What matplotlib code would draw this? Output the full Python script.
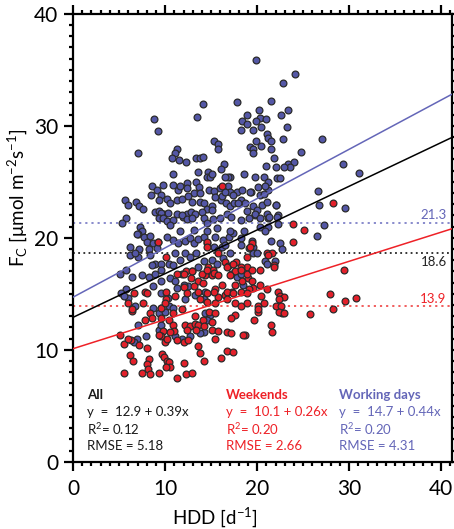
import matplotlib
matplotlib.use("Agg")
import matplotlib.pyplot as plt
from matplotlib.ticker import MultipleLocator

plt.rcParams['font.family'] = ['Lato', 'DejaVu Sans']
plt.rcParams['mathtext.fontset'] = 'custom'
plt.rcParams['mathtext.rm'] = 'Lato'
plt.rcParams['mathtext.it'] = 'Lato'

# (HDD, Fc) pairs
working_days = [
    (8.8,30.6),(9.2,29.5),(13.5,30.8),(14.1,31.9),(17.8,32.1),(18.4,30.4),(18.3,29.6),(19.9,35.9),
    (24.1,34.6),(22.8,33.8),(21.5,32.2),(20.2,31.4),(23.4,31.4),(22.6,31.0),(18.9,31.0),(20.3,30.7),
    (21.0,30.6),(19.9,30.4),(18.9,30.2),(20.4,29.9),(23.3,29.9),(19.5,29.6),(21.1,29.3),
    (19.9,28.6),(19.2,28.1),(19.5,27.9),(19.5,27.6),(20.4,28.2),(21.2,28.9),(21.5,28.6),(22.8,28.8),
    (21.5,27.9),(21.8,27.1),(24.8,27.7),(27.1,28.8),(23.4,26.6),(24.0,26.8),(23.6,26.3),(22.9,26.3),
    (22.0,26.3),(21.0,26.4),(29.3,26.6),(31.1,25.8),(15.3,28.6),(15.8,28.4),(15.8,27.9),(11.3,27.9),
    (11.1,27.6),(10.7,27.1),(7.1,27.6),(11.5,26.9),(12.3,26.8),(13.4,27.1),(13.8,27.1),(14.1,27.2),
    (16.4,26.6),(17.1,25.4),(16.8,25.4),(16.1,26.1),(16.5,25.4),(10.9,25.7),(13.6,25.9),(14.7,25.9),
    (14.5,25.4),(14.9,25.4),(15.1,25.7),(18.6,25.7),(19.8,25.4),(20.7,25.4),(22.2,25.3),(22.5,25.3),
    (8.6,24.6),(9.1,24.3),(11.4,24.3),(11.6,24.6),(12.4,24.9),(13.4,25.0),(13.7,24.5),(12.4,24.4),
    (13.1,24.0),(13.8,24.0),(14.8,24.3),(15.3,24.2),(16.0,24.4),(16.8,24.6),(17.1,24.1),(17.8,24.1),
    (18.4,24.3),(19.3,24.1),(20.1,24.5),(20.3,23.8),(21.2,24.3),(20.8,23.9),(8.5,23.8),(9.5,23.8),
    (9.3,23.4),(10.2,23.5),(10.5,23.1),(11.3,23.4),(11.8,23.5),(12.5,23.7),(12.9,23.2),(13.8,23.2),
    (14.2,23.1),(14.5,22.6),(15.1,22.8),(15.4,23.6),(16.1,23.4),(16.6,23.1),(17.1,22.8),(17.5,23.1),
    (18.2,23.4),(18.7,23.1),(19.6,22.8),(20.0,22.5),(20.5,22.9),(21.1,23.2),(22.0,22.9),
    (5.6,23.4),(6.0,22.9),(6.8,23.2),(7.2,22.8),(7.6,22.6),(5.7,21.8),(9.8,24.7),(10.9,24.7),
    (8.9,22.3),(9.3,22.4),(9.9,22.1),(10.3,22.2),(11.3,22.1),(11.9,21.9),(12.4,22.1),(12.8,22.3),
    (13.3,22.1),(14.0,22.3),(15.1,22.5),(16.2,23.7),(16.5,24.1),(17.4,23.8),(17.9,23.1),
    (21.2,25.0),(20.9,24.6),(19.2,24.1),(22.1,22.9),(21.1,22.1),(21.2,21.8),(22.3,22.0),(19.8,22.0),
    (18.9,22.4),(26.6,24.2),(26.7,22.9),(29.6,22.7),
    (9.5,22.2),(9.3,21.8),(9.8,21.8),(10.2,21.5),(10.9,21.6),(11.8,22.0),(12.4,21.7),(12.9,21.8),
    (14.2,21.8),(14.5,21.3),(15.2,21.7),(16.0,21.8),(16.7,22.1),(17.2,21.9),(18.2,21.6),(19.1,21.8),
    (19.8,22.1),(20.3,21.8),(21.3,21.9),(22.2,21.9),(22.3,21.2),(10.2,20.1),(10.9,19.8),(11.4,19.5),
    (12.2,19.7),(12.7,20.0),(13.1,19.5),(13.6,19.9),(14.2,20.1),(14.5,19.5),(15.4,20.1),(15.3,19.2),
    (16.3,19.8),(16.9,20.1),(17.4,20.4),(19.4,19.7),(19.5,19.2),(10.5,21.1),(11.6,20.6),(13.1,20.7),
    (14.5,20.6),(15.6,20.9),(17.1,20.6),(18.6,20.6),(20.3,21.0),(21.2,21.0),(20.9,20.6),
    (7.3,21.0),(7.5,20.6),(7.0,20.3),(7.7,20.1),(8.4,20.2),(8.0,19.6),(8.7,19.5),(9.2,19.6),
    (6.2,19.2),(7.2,19.0),(8.3,19.0),(9.1,19.1),(7.0,18.3),(26.5,20.2),(27.3,21.1),(22.5,19.5),
    (21.5,19.7),(22.7,19.0),(19.6,18.6),(20.0,18.6),(19.1,19.1),(5.3,21.3),(6.9,20.3),
    (12.2,18.6),(12.7,18.3),(11.6,18.0),(11.1,18.6),(13.4,18.6),(6.2,18.5),(6.7,18.6),(8.4,18.5),
    (15.8,18.9),(16.2,19.2),(16.5,19.4),(18.2,20.0),(18.3,19.4),(17.1,18.6),(16.3,18.2),(15.1,18.0),
    (14.2,17.9),(15.6,17.7),
    (8.9,17.7),(8.6,17.6),(9.5,17.7),(10.4,17.7),(10.9,17.6),(5.1,16.8),(5.7,17.1),(6.4,16.5),
    (7.5,16.7),(8.2,16.5),(8.9,16.8),(9.6,17.1),(9.5,16.1),(10.5,16.4),(11.1,16.1),(11.8,16.8),
    (12.9,17.0),(13.6,17.4),(17.2,16.8),(17.8,16.5),(18.3,16.8),(18.5,15.8),(12.5,15.7),(14.3,15.2),
    (13.3,14.9),(5.7,15.4),(6.0,14.6),(8.7,15.7),(9.6,15.1),(10.3,14.6),(11.3,15.5),(12.2,14.5),
    (14.2,14.5),(12.0,15.8),(20.9,17.9),(21.1,17.7),(21.9,17.9),(5.2,15.1),(5.5,14.8),
    (6.7,13.9),(7.1,12.2),(7.9,11.2),(8.7,13.7),(9.6,13.7),(10.4,13.9),(10.9,13.7),(9.3,13.3),
    (10.0,13.4),(9.3,11.8),(9.6,12.2),(14.3,13.3),(14.9,13.1),(14.5,12.7),(14.2,11.6),(13.8,11.5),
    (11.8,11.0),(12.7,11.2),(6.9,11.0),(6.6,10.7),(11.1,11.2),
]

weekends = [
    (28.3,23.1),(16.2,24.6),(23.9,21.2),(25.1,20.7),(23.9,19.6),(29.4,17.1),(27.9,15.0),(29.5,14.4),
    (30.8,14.6),(25.8,13.2),(28.3,13.6),
    (9.2,19.6),(10.1,18.3),(14.5,19.6),(14.5,19.2),(15.8,18.6),(21.1,18.6),(21.6,18.6),(19.4,19.5),
    (19.2,19.2),(18.9,18.3),(18.9,17.4),(20.3,17.1),(21.8,17.6),(21.2,18.5),
    (12.3,17.0),(12.8,16.4),(7.8,15.2),(6.6,15.1),(6.0,14.2),(10.1,15.2),(10.1,14.5),(12.1,15.6),
    (13.6,16.1),(14.1,16.0),(14.7,17.4),(15.2,17.1),(15.1,16.7),(14.3,16.7),(16.5,17.8),(16.8,17.5),
    (17.7,17.8),(18.2,17.4),(17.6,17.0),(17.1,16.7),(18.4,16.1),(17.6,15.8),(17.3,15.2),(16.2,15.8),
    (15.4,15.4),(15.8,14.7),(16.5,14.9),(18.2,15.2),(19.0,16.4),(19.4,16.1),(20.3,15.8),(19.6,15.5),
    (19.1,15.4),(21.1,15.4),(20.4,14.8),(22.3,15.2),(22.5,14.8),(22.9,14.7),(22.4,14.5),
    (16.7,15.2),(17.4,15.1),(18.9,15.1),(15.3,15.2),(14.5,15.1),(13.6,15.2),(13.1,15.7),(13.8,14.5),
    (14.5,14.3),(15.4,14.2),(16.7,14.5),(17.6,14.2),(18.2,13.9),(18.9,14.2),(20.1,13.9),(20.7,14.2),
    (20.1,13.4),(22.5,13.7),(22.7,13.3),(22.1,13.9),(8.0,15.1),(7.6,14.2),(6.4,13.5),(8.4,13.3),
    (9.5,13.7),(10.0,14.2),(11.1,14.8),(12.4,15.1),(11.3,16.8),(12.0,16.8),(12.9,17.0),(14.0,16.8),
    (14.5,17.1),(15.3,16.9),(15.8,16.7),(16.7,17.4),(17.4,17.7),(18.3,17.1),(18.9,16.8),(19.4,17.1),
    (21.8,17.4),(20.1,13.6),(22.6,13.9),(22.4,13.4),(22.9,13.3),(19.7,12.7),(21.5,12.2),(21.6,11.6),
    (18.7,11.3),
    (6.4,13.6),(8.6,12.8),(7.8,12.7),(9.5,12.8),(10.4,12.7),(10.9,13.3),(11.8,13.6),(13.3,13.0),
    (14.1,12.7),(14.8,13.4),(15.1,12.5),(15.4,13.3),(12.2,12.2),(12.7,12.1),(13.3,12.3),(13.6,12.2),
    (14.2,12.1),(12.4,11.8),(13.4,11.8),(15.1,11.8),(15.7,11.7),(16.7,11.6),(17.2,11.5),(17.6,13.1),
    (17.2,12.8),(10.9,12.2),(11.0,11.7),(10.5,11.6),(9.8,11.7),(9.5,11.2),(10.0,10.7),(10.2,11.0),
    (11.3,10.9),(12.0,10.7),(12.5,10.9),(15.4,11.0),(5.5,10.5),(6.3,10.9),(7.2,10.4),(8.0,10.2),
    (9.3,11.3),(18.5,11.3),(5.1,11.3),(6.0,11.0),
    (6.2,9.5),(6.5,9.0),(8.3,9.2),(8.0,8.7),(8.1,8.3),(9.7,9.6),(9.9,9.4),(10.2,9.0),(10.4,8.9),
    (10.5,8.5),(10.1,8.5),(12.1,8.8),(14.2,9.0),(13.6,10.3),(13.8,9.7),(16.1,9.3),(16.7,9.9),
    (17.4,9.8),(5.5,7.9),(7.5,7.9),(8.4,7.8),(9.3,7.9),(11.3,7.5),(12.3,7.8),(12.9,7.9),
]

# regression fits and means
fit_all = (12.9, 0.39)
fit_weekend = (10.1, 0.26)
fit_work = (14.7, 0.44)
mean_all = 18.6
mean_weekend = 13.9
mean_work = 21.3

BLUE = '#5457a6'
BLUE_LINE = '#6466b8'
RED = '#e3202a'
RED_LINE = '#ee2127'

fig = plt.figure(figsize=(4.54, 5.29), dpi=100)
ax = fig.add_axes([0.161, 0.127, 0.835, 0.847])

xmax = 41.2
ax.set_xlim(0, xmax)
ax.set_ylim(0, 40)

wx = [p[0] for p in working_days]
wy = [p[1] for p in working_days]
rx = [p[0] for p in weekends]
ry = [p[1] for p in weekends]
ax.scatter(wx, wy, s=24, c=BLUE, edgecolors='#2a2a2a', linewidths=0.9, zorder=3)
ax.scatter(rx, ry, s=24, c=RED, edgecolors='#2a2a2a', linewidths=0.9, zorder=3)

xs = [0, xmax]
for (a, b), col in [(fit_work, BLUE_LINE), (fit_all, 'black'), (fit_weekend, RED_LINE)]:
    ax.plot(xs, [a + b * v for v in xs], color=col, lw=1.1, zorder=4)

dot = (0, (1.2, 2.2))
ax.axhline(mean_work, color='#7f81c8', lw=1.3, ls=dot, zorder=2)
ax.axhline(mean_all, color='black', lw=1.1, ls=dot, zorder=2)
ax.axhline(mean_weekend, color='#f05050', lw=1.3, ls=dot, zorder=2)
ax.text(40.6, mean_work + 0.7, f'{mean_work:.1f}', color=BLUE_LINE, ha='right', va='center', fontsize=9.5)
ax.text(40.6, mean_all - 0.8, f'{mean_all:.1f}', color='#222222', ha='right', va='center', fontsize=9.5)
ax.text(40.6, mean_weekend + 0.6, f'{mean_weekend:.1f}', color=RED_LINE, ha='right', va='center', fontsize=9.5)

# fit statistics
groups = [
    (1.5, 'All', fit_all, '0.12', '5.18', '#1a1a1a'),
    (16.6, 'Weekends', fit_weekend, '0.20', '2.66', RED_LINE),
    (28.9, 'Working days', fit_work, '0.20', '4.31', BLUE_LINE),
]
for x0, name, (a, b), r2, rmse, col in groups:
    ax.text(x0, 6.0, name, color=col, fontsize=9.5, fontweight='bold', va='center')
    ax.text(x0, 4.45, f'y  =  {a:.1f} + {b:.2f}x', color=col, fontsize=9.5, va='center')
    ax.text(x0, 2.9, r'R$^2$= ' + r2, color=col, fontsize=9.5, va='center')
    ax.text(x0, 1.4, f'RMSE = {rmse}', color=col, fontsize=9.5, va='center')

ax.xaxis.set_major_locator(MultipleLocator(10))
ax.xaxis.set_minor_locator(MultipleLocator(1))
ax.yaxis.set_major_locator(MultipleLocator(10))
ax.yaxis.set_minor_locator(MultipleLocator(1))
ax.tick_params(which='both', direction='out', top=True, right=True, width=1.6, colors='black')
ax.tick_params(which='major', length=6.5, labelsize=15)
ax.tick_params(which='minor', length=3)
ax.tick_params(axis='x', which='major', pad=6)
ax.tick_params(axis='y', which='major', pad=4)
for sp in ax.spines.values():
    sp.set_linewidth(1.6)

ax.set_xlabel(r'HDD [d$^{-1}$]', fontsize=13.5)
ax.set_ylabel(r'F$_\mathrm{C}$ [$\mathrm{\mu}$mol m$^{-2}$s$^{-1}$]', fontsize=13.5)
ax.xaxis.set_label_coords(0.375, -0.098)
ax.yaxis.set_label_coords(-0.115, 0.59)

fig.savefig('out.png', dpi=100)
